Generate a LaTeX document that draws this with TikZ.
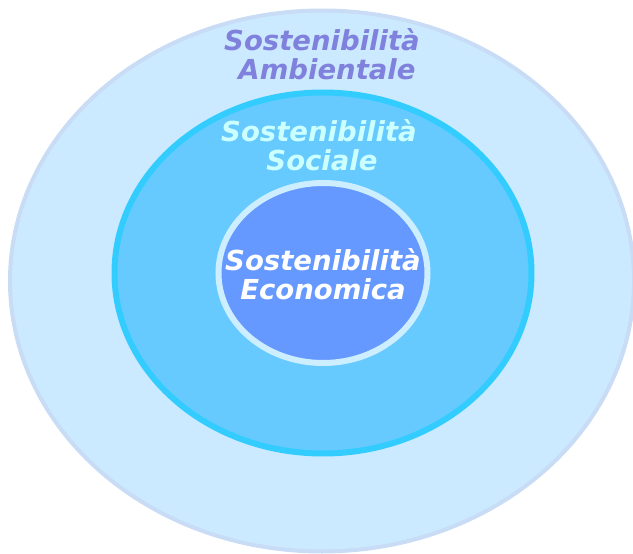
\documentclass[tikz,border=0pt]{standalone}
\usepackage{fontspec}
\newfontfamily\ringfont{DejaVu Sans}
\usetikzlibrary{shapes.geometric}

\definecolor{ambfill}{HTML}{CCEAFF}
\definecolor{ambline}{HTML}{C8DCF5}
\definecolor{socfill}{HTML}{66CAFF}
\definecolor{socline}{HTML}{33CCFF}
\definecolor{ecofill}{HTML}{6699FF}
\definecolor{ecoline}{HTML}{CCEEFF}
\definecolor{ambtext}{HTML}{8080DD}
\definecolor{soctext}{HTML}{CCFFFF}

\tikzset{
	ring/.style={draw, ellipse, inner sep=0pt},
	ringlabel/.style={align=center, font=\ringfont\bfseries\itshape\fontsize{27.5}{29}\selectfont}
}

\begin{document}
\begin{tikzpicture}[x=1pt, y=-1pt]
		\useasboundingbox (0,0) rectangle (633,554);
		
		% the three spheres
		\node[ring, fill=ambfill, draw=ambline, line width=4pt,
			minimum width=624pt, minimum height=541pt] (A) at (322,281) {};
		\node[ring, fill=socfill, draw=socline, line width=6pt,
			minimum width=417pt, minimum height=361pt] (S) at (323,273) {};
		\node[ring, fill=ecofill, draw=ecoline, line width=6pt,
			minimum width=209pt, minimum height=180pt] (E) at (323,273) {};
		
		% labels
		\node[ringlabel, text=ambtext] (LA) at (322,54) {Sostenibilità\\ \hspace{10pt}Ambientale};
		\node[ringlabel, text=soctext] (LS) at (319,145) {Sostenibilità\\ \hspace{6pt}Sociale};
		\node[ringlabel, text=white] (LE) at (323,274) {Sostenibilità\\Economica};
		\end{tikzpicture}
\end{document}
